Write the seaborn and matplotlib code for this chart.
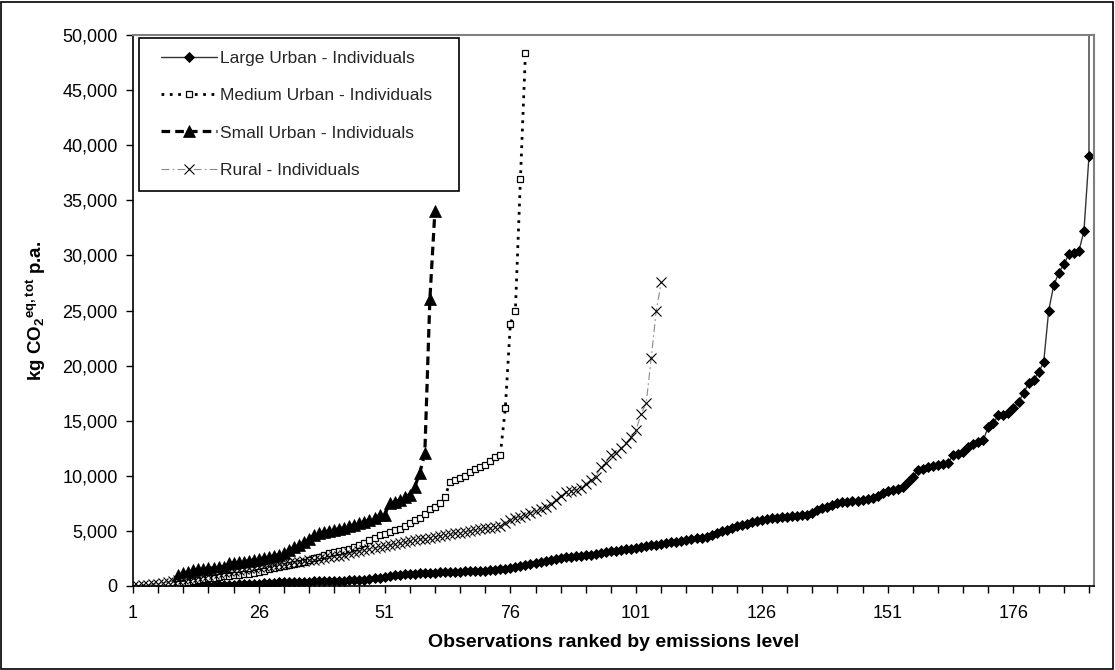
import numpy as np
import pandas as pd
import matplotlib
matplotlib.use("Agg")
import matplotlib.pyplot as plt
import seaborn as sns
from matplotlib.ticker import FuncFormatter
from matplotlib.patches import Rectangle

# ---------------- data ----------------
series_names = ["Large Urban - Individuals", "Medium Urban - Individuals",
                "Small Urban - Individuals", "Rural - Individuals"]

large_start = 11
large_values = [
    10, 20, 30, 40, 55, 70, 80, 95, 110, 120,
    135, 150, 165, 180, 200, 220, 240, 265, 290, 320,
    335, 350, 365, 380, 395, 405, 415, 425, 440, 450,
    465, 480, 495, 510, 525, 540, 580, 640, 700, 760,
    850, 930, 1000, 1030, 1060, 1090, 1120, 1150, 1170, 1190,
    1210, 1240, 1270, 1290, 1300, 1310, 1320, 1330, 1340, 1360,
    1390, 1420, 1450, 1500, 1560, 1640, 1720, 1800, 1900, 2000,
    2100, 2200, 2290, 2380, 2460, 2540, 2590, 2640, 2690, 2730,
    2780, 2840, 2900, 2990, 3080, 3150, 3220, 3280, 3340, 3400,
    3460, 3520, 3600, 3700, 3760, 3820, 3880, 3950, 4020, 4100,
    4180, 4260, 4350, 4400, 4450, 4600, 4800, 4950, 5100, 5250,
    5400, 5500, 5650, 5800, 5900, 6000, 6080, 6150, 6200, 6250,
    6300, 6330, 6360, 6400, 6440, 6650, 6900, 7050, 7200, 7350,
    7500, 7580, 7650, 7700, 7750, 7800, 7900, 7980, 8200, 8450,
    8600, 8700, 8800, 9000, 9400, 9900, 10500, 10650, 10800, 10900,
    11000, 11100, 11150, 11900, 12000, 12200, 12650, 12900, 13100, 13250,
    14450, 14800, 15500, 15550, 15700, 16150, 16700, 17500, 18400, 18700,
    19400, 20300, 25000, 27300, 28400, 29200, 30100, 30200, 30400, 32200,
    39000, 1500000,
]

medium_start = 10
medium_values = [
    200, 300, 400, 480, 560, 640, 700, 760, 820, 880,
    930, 980, 1030, 1080, 1130, 1200, 1300, 1400, 1500, 1600,
    1700, 1800, 1900, 2000, 2100, 2200, 2350, 2500, 2650, 2800,
    2950, 3050, 3150, 3260, 3400, 3550, 3700, 3900, 4150, 4400,
    4600, 4750, 4900, 5050, 5200, 5450, 5700, 5950, 6200, 6500,
    7000, 7200, 7500, 8100, 9400, 9600, 9800, 10000, 10300, 10600,
    10800, 11000, 11300, 11700, 11900, 16150, 23800, 25000, 36900, 48400,
]

small_start = 10
small_values = [
    1000, 1150, 1300, 1450, 1500, 1550, 1600, 1650, 1700, 1750,
    2050, 2100, 2150, 2200, 2300, 2350, 2450, 2550, 2650, 2750,
    2850, 3000, 3250, 3500, 3700, 4000, 4300, 4600, 4800, 4900,
    5000, 5100, 5200, 5300, 5450, 5550, 5700, 5850, 6000, 6200,
    6400, 6450, 7500, 7650, 7800, 8100, 8300, 9000, 10250, 12050,
    26000, 34000,
]

rural_start = 1
rural_values = [
    0, 30, 70, 110, 160, 220, 290, 360, 440, 520,
    600, 680, 760, 840, 920, 1000, 1080, 1160, 1250, 1330,
    1400, 1470, 1540, 1600, 1660, 1720, 1780, 1840, 1900, 1960,
    2020, 2080, 2140, 2200, 2260, 2330, 2400, 2470, 2540, 2600,
    2680, 2760, 2850, 2950, 3050, 3150, 3250, 3350, 3450, 3550,
    3650, 3720, 3800, 3880, 3960, 4050, 4130, 4220, 4300, 4400,
    4480, 4550, 4620, 4700, 4780, 4850, 4920, 5000, 5080, 5150,
    5220, 5300, 5380, 5450, 5700, 5950, 6150, 6300, 6450, 6600,
    6800, 7000, 7200, 7400, 7800, 8200, 8500, 8600, 8750, 8900,
    9300, 9600, 9900, 10800, 11200, 11900, 12050, 12500, 13000, 13500,
    14200, 15600, 16600, 20700, 25000, 27600,
]

x_label_ticks = [1, 26, 51, 76, 101, 126, 151, 176]
y_ticks = [0, 5000, 10000, 15000, 20000, 25000, 30000, 35000, 40000, 45000, 50000]

# ---------------- build long table ----------------
frames = []
for name, start, vals in zip(series_names,
                             [large_start, medium_start, small_start, rural_start],
                             [large_values, medium_values, small_values, rural_values]):
    frames.append(pd.DataFrame({"rank": np.arange(start, start + len(vals)),
                                "value": vals, "series": name}))
df = pd.concat(frames, ignore_index=True)

# ---------------- style ----------------
sns.set_theme(style="white")
plt.rcParams["font.family"] = ["Liberation Sans", "DejaVu Sans"]
plt.rcParams["mathtext.fontset"] = "custom"
plt.rcParams["mathtext.rm"] = "Liberation Sans:bold"
plt.rcParams["mathtext.it"] = "Liberation Sans:bold"
plt.rcParams["mathtext.bf"] = "Liberation Sans:bold"
plt.rcParams["mathtext.default"] = "rm"

fig = plt.figure(figsize=(11.15, 6.7), dpi=100)
fig.patch.set_facecolor("white")
ax = fig.add_axes([133 / 1115, 1 - 586 / 670, (1094 - 133) / 1115, (586 - 35) / 670])

styles = {
    "Large Urban - Individuals": dict(color="#333333", linewidth=1.0, linestyle="-",
                                      marker="D", markersize=5.5, markerfacecolor="black",
                                      markeredgecolor="black", markeredgewidth=0.6),
    "Medium Urban - Individuals": dict(color="black", linewidth=2.0, linestyle=(0, (1, 2)),
                                       marker="s", markersize=5, markerfacecolor="white",
                                       markeredgecolor="black", markeredgewidth=0.9),
    "Small Urban - Individuals": dict(color="black", linewidth=2.3, linestyle=(0, (2.7, 1.6)),
                                      marker="^", markersize=8, markerfacecolor="black",
                                      markeredgecolor="black", markeredgewidth=0.5),
    "Rural - Individuals": dict(color="#8a8a8a", linewidth=0.8, linestyle=(0, (7, 3, 1.5, 3)),
                                marker="x", markersize=7, markerfacecolor="black",
                                markeredgecolor="black", markeredgewidth=0.8),
}

for name in series_names:
    sub = df[df["series"] == name]
    sns.lineplot(data=sub, x="rank", y="value", ax=ax, label=name,
                 estimator=None, sort=True, **styles[name])

# ---------------- axes ----------------
ax.set_xlim(1, 192)
ax.set_ylim(0, 50000)
ax.set_xticks(list(range(1, 192, 5)))
ax.set_xticklabels([str(t) if t in x_label_ticks else "" for t in range(1, 192, 5)])
ax.set_yticks(y_ticks)
ax.yaxis.set_major_formatter(FuncFormatter(lambda v, p: f"{int(v):,}"))
ax.tick_params(axis="x", direction="out", length=5, width=1, color="black",
               labelsize=13, pad=9, labelcolor="black", bottom=True)
ax.tick_params(axis="y", direction="out", length=5, width=1, color="black",
               labelsize=13, pad=6, labelcolor="black", left=True)

for s in ["left", "bottom"]:
    ax.spines[s].set_color("black")
    ax.spines[s].set_linewidth(1.2)
for s in ["top", "right"]:
    ax.spines[s].set_color("#7f7f7f")
    ax.spines[s].set_linewidth(1.5)
ax.grid(False)

ax.set_xlabel("Observations ranked by emissions level", fontsize=14,
              fontweight="bold", labelpad=8, color="black")
ax.set_ylabel(r"kg CO$_2{}^{eq,tot}$ p.a.", fontsize=13.5, fontweight="bold",
              labelpad=10, color="black")

# legend: frame drawn separately so the entries can sit where they are in the reference
ax.add_patch(Rectangle(((139 - 133) / 961, (586 - 191) / 551), 320 / 961, 153 / 551,
                       transform=ax.transAxes, facecolor="white", edgecolor="black",
                       linewidth=1.2, zorder=4))
handles, labels = ax.get_legend_handles_labels()
leg = ax.legend(handles, labels, loc="upper left",
                bbox_to_anchor=((161 - 133) / 961, (586 - 51) / 551),
                frameon=False, fontsize=12.5, handlelength=3.2, numpoints=1,
                labelspacing=1.27, borderpad=0, handletextpad=0.2, borderaxespad=0)
leg.set_zorder(5)

# outer chart frame
fig.patches.append(Rectangle((0.001, 0.0015), 0.997, 0.996, transform=fig.transFigure,
                             fill=False, edgecolor="black", linewidth=1.2))

fig.savefig("out.png", dpi=100)
